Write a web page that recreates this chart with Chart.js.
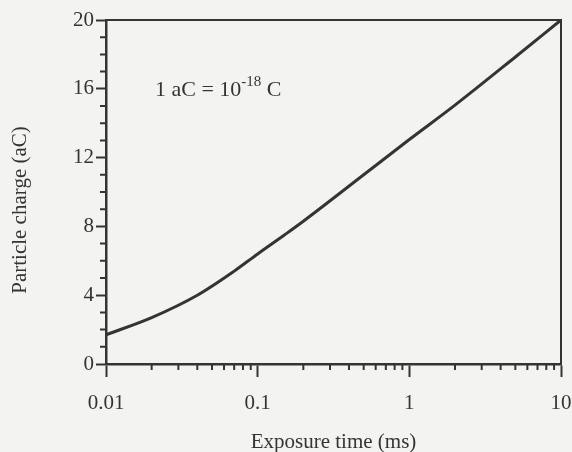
<!DOCTYPE html>
<html>
<head>
<meta charset="utf-8">
<script src="https://cdn.jsdelivr.net/npm/chart.js@4"></script>
<style>
  html, body { margin: 0; padding: 0; background: #f3f3f1; }
  #wrap { width: 572px; height: 452px; }
</style>
</head>
<body>
<div id="wrap"><canvas id="myChart"></canvas></div>
<script>
// exposure time (ms) and particle charge (aC)
var exposureTime = [0.01, 0.02, 0.04, 0.07, 0.1, 0.15, 0.2, 0.5, 1, 2, 5, 10];
var particleCharge = [1.7, 2.7, 4.0, 5.4, 6.4, 7.5, 8.3, 11.0, 13.05, 15.05, 17.85, 20];

var xMajorTicks = [0.01, 0.1, 1, 10];
var xTickLabels = ['0.01', '0.1', '1', '10'];
var yMajorTicks = [0, 4, 8, 12, 16, 20];
var xTitle = 'Exposure time (ms)';
var yTitle = 'Particle charge (aC)';

var ink = '#343434';
var serif = '"Liberation Serif", "DejaVu Serif", serif';

// minor ticks, box frame, y title and the unit note
var extras = {
    id: 'extras',
    afterDraw: function (chart) {
        var c = chart.ctx, a = chart.chartArea;
        var x = chart.scales.x, y = chart.scales.y;
        c.save();
        c.strokeStyle = ink;

        // top + right side of the box
        c.lineWidth = 2;
        c.beginPath();
        c.moveTo(a.left, a.top);
        c.lineTo(a.right, a.top);
        c.lineTo(a.right, a.bottom);
        c.stroke();

        // minor ticks
        c.beginPath();
        for (var v = 1; v < 20; v++) {
            if (v % 4 === 0) continue;
            var py = y.getPixelForValue(v);
            c.moveTo(a.left - 6, py);
            c.lineTo(a.left, py);
        }
        for (var d = 0; d < 3; d++) {
            for (var m = 2; m < 10; m++) {
                var px = x.getPixelForValue(m * xMajorTicks[d]);
                c.moveTo(px, a.bottom);
                c.lineTo(px, a.bottom + 6);
            }
        }
        c.stroke();

        // y axis title
        c.fillStyle = ink;
        c.font = '21px ' + serif;
        c.textAlign = 'center';
        c.textBaseline = 'middle';
        c.translate(20, 210);
        c.rotate(-Math.PI / 2);
        c.fillText(yTitle, 0, 0);
        c.restore();

        // 1 aC = 10^-18 C
        c.save();
        c.fillStyle = ink;
        c.textBaseline = 'alphabetic';
        c.textAlign = 'left';
        c.font = '22px ' + serif;
        var tx = 155, ty = 96;
        var s1 = '1 aC = 10';
        c.fillText(s1, tx, ty);
        tx += c.measureText(s1).width;
        c.font = '15px ' + serif;
        c.fillText('-18', tx, ty - 10);
        tx += c.measureText('-18').width;
        c.font = '22px ' + serif;
        c.fillText(' C', tx, ty);
        c.restore();
    }
};

var ctx = document.getElementById('myChart').getContext('2d');
var myChart = new Chart(ctx, {
    type: 'line',
    data: {
        datasets: [{
            data: exposureTime.map(function (t, i) { return { x: t, y: particleCharge[i] }; }),
            borderColor: ink,
            borderWidth: 3,
            pointRadius: 0,
            cubicInterpolationMode: 'monotone',
            fill: false,
            clip: false
        }]
    },
    options: {
        responsive: true,
        maintainAspectRatio: false,
        animation: false,
        layout: { padding: { top: 20, right: 11, left: 0, bottom: 0 } },
        plugins: { legend: { display: false }, tooltip: { enabled: false } },
        scales: {
            x: {
                type: 'logarithmic',
                min: 0.01,
                max: 10,
                afterBuildTicks: function (s) {
                    s.ticks = xMajorTicks.map(function (v) { return { value: v }; });
                },
                afterFit: function (s) {
                    s.height = 88;
                    s.paddingLeft = 0;
                    s.paddingRight = 0;
                },
                ticks: {
                    autoSkip: false,
                    maxRotation: 0,
                    padding: 14,
                    color: ink,
                    font: { family: serif, size: 21 },
                    callback: function (v, i) { return xTickLabels[i]; }
                },
                grid: { drawOnChartArea: false, tickLength: 13, tickWidth: 2, color: ink },
                border: { color: ink, width: 2.5 },
                title: {
                    display: true,
                    text: xTitle,
                    color: ink,
                    font: { family: serif, size: 21 },
                    padding: { top: 0, bottom: -3 }
                }
            },
            y: {
                min: 0,
                max: 20,
                afterBuildTicks: function (s) {
                    s.ticks = yMajorTicks.map(function (v) { return { value: v }; });
                },
                afterFit: function (s) { s.width = 106; },
                ticks: {
                    padding: 2,
                    color: ink,
                    font: { family: serif, size: 21 },
                    callback: function (v) { return String(v); }
                },
                grid: { drawOnChartArea: false, tickLength: 10, tickWidth: 2, color: ink },
                border: { color: ink, width: 2.5 }
            }
        }
    },
    plugins: [extras]
});
</script>
</body>
</html>
